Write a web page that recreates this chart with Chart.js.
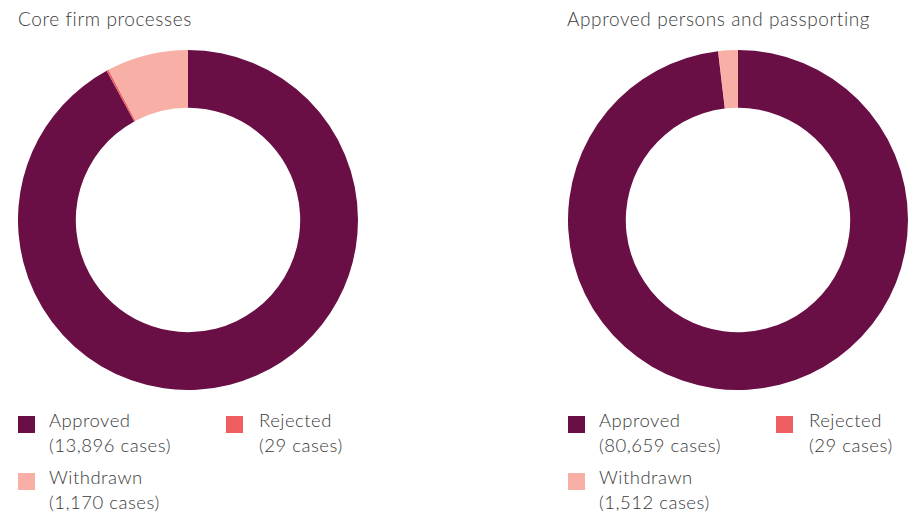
<!DOCTYPE html>
<html lang="en">
<head>
    <meta charset="UTF-8">
    <title>Authorisation outcomes</title>
    <script src="https://cdn.jsdelivr.net/npm/chart.js@4.4.0/dist/chart.umd.min.js"></script>
    <style>
        body {
            margin: 0;
            width: 909px;
            height: 515px;
            background: #fff;
            font-family: 'Lato', 'Open Sans', sans-serif;
            color: #3a3a3a;
            position: relative;
            overflow: hidden;
        }
        .panel-title {
            position: absolute;
            top: 7px;
            font-size: 19px;
            letter-spacing: 0.6px;
            font-weight: 300;
            white-space: nowrap;
        }
        .chart-box {
            position: absolute;
            top: 50px;
            width: 340px;
            height: 340px;
        }
        .legend-item {
            position: absolute;
            font-size: 18.5px;
            letter-spacing: 0.5px;
            line-height: 25px;
            font-weight: 300;
            white-space: nowrap;
        }
        .legend-item .swatch {
            position: absolute;
            left: 0;
            top: 4px;
            width: 17px;
            height: 17px;
        }
        .legend-item .text {
            position: absolute;
            top: -4px;
        }
    </style>
</head>
<body>
    <div class="panel-title" style="left:18px;">Core firm processes</div>
    <div class="panel-title" style="left:567px;">Approved persons and passporting</div>

    <div class="chart-box" style="left:18px;"><canvas id="coreChart"></canvas></div>
    <div class="chart-box" style="left:568px;"><canvas id="personsChart"></canvas></div>

    <div id="coreLegend"></div>
    <div id="personsLegend"></div>

    <script>
        // outcome categories and colours
        const outcomes = ['Approved', 'Rejected', 'Withdrawn'];
        const outcomeColors = ['#6a0f45', '#ef5e60', '#f8afa6'];

        // number of cases per outcome
        const coreCases = [13896, 29, 1170];
        const personsCases = [80659, 29, 1512];

        function makeDoughnut(id, values) {
            new Chart(document.getElementById(id), {
                type: 'doughnut',
                data: {
                    labels: outcomes,
                    datasets: [{
                        data: values,
                        backgroundColor: outcomeColors,
                        borderWidth: 0
                    }]
                },
                options: {
                    responsive: true,
                    maintainAspectRatio: false,
                    animation: false,
                    cutout: '66%',
                    layout: { padding: 0 },
                    plugins: {
                        legend: { display: false },
                        tooltip: { enabled: false }
                    }
                }
            });
        }

        // legend laid out in two columns under each chart
        function makeLegend(id, values, left) {
            const spots = [
                { x: 0, y: 412 },
                { x: 208, y: 412 },
                { x: 0, y: 469 }
            ];
            const host = document.getElementById(id);
            outcomes.forEach((name, i) => {
                const item = document.createElement('div');
                item.className = 'legend-item';
                item.style.left = (left + spots[i].x) + 'px';
                item.style.top = spots[i].y + 'px';
                item.innerHTML =
                    '<div class="swatch" style="background:' + outcomeColors[i] + '"></div>' +
                    '<div class="text" style="left:' + (i === 1 ? 33 : 31) + 'px">' + name + '<br>(' +
                    values[i].toLocaleString('en-GB') + ' cases)</div>';
                host.appendChild(item);
            });
        }

        makeDoughnut('coreChart', coreCases);
        makeDoughnut('personsChart', personsCases);
        makeLegend('coreLegend', coreCases, 18);
        makeLegend('personsLegend', personsCases, 568);
    </script>
</body>
</html>
